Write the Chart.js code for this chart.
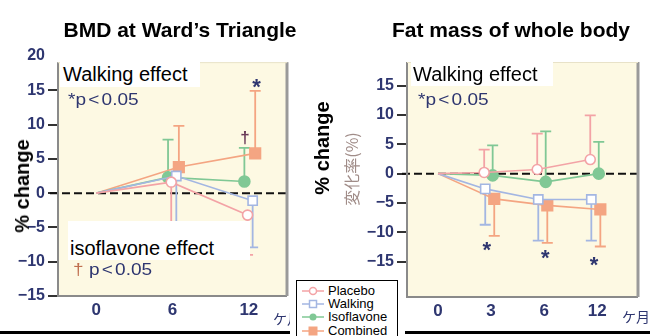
<!DOCTYPE html>
<html><head><meta charset="utf-8">
<script src="https://cdn.jsdelivr.net/npm/chart.js@4"></script>
<style>
html,body{margin:0;padding:0;background:#fff}
body{width:650px;height:336px;overflow:hidden;position:relative;font-family:"Liberation Sans",Arial,sans-serif}
canvas{position:absolute;top:0}
.t{position:absolute;white-space:nowrap;line-height:1}
.c{transform:translate(-50%,-50%)}
.box{position:absolute;background:#fff}
.navy{color:#2e3670}
.pv{font-size:17px;transform:scaleX(1.12);transform-origin:left center}
.lt{margin:0 2px}
.leg{position:absolute;left:296px;top:280px;width:100px;height:60px;border:1px solid #000;background:#fff}
.row{position:absolute;left:5px;height:12px;font-size:13px;line-height:12px}
.row svg{position:absolute;left:0;top:0}
.row span{position:absolute;left:26px;top:0}
</style></head><body>
<canvas id="c1" width="325" height="336" style="left:0;width:325px;height:336px"></canvas>
<canvas id="c2" width="325" height="336" style="left:325px;width:325px;height:336px"></canvas>

<div class="t c" style="left:180px;top:29px;font-size:21px;font-weight:bold">BMD at Ward’s Triangle</div>
<div class="t c" style="left:511px;top:29px;font-size:21px;font-weight:bold">Fat mass of whole body</div>

<div class="t c" style="left:22px;top:186px;font-size:20px;font-weight:bold;transform:translate(-50%,-50%) rotate(-90deg)">% change</div>
<div class="t c" style="left:322px;top:148px;font-size:20px;font-weight:bold;transform:translate(-50%,-50%) rotate(-90deg)">% change</div>
<div class="t c" style="left:351px;top:169px;font-size:16px;color:#a08c88;font-family:'Noto Sans CJK JP',sans-serif;transform:translate(-50%,-50%) rotate(-90deg)">変化率(%)</div>

<div class="box" style="left:60px;top:62px;width:140px;height:25px"></div>
<div class="t" style="left:63px;top:64px;font-size:20px">Walking effect</div>
<div class="t navy pv" style="left:68px;top:91px">*p<span class="lt">&lt;</span>0.05</div>

<div class="box" style="left:68px;top:221px;width:182px;height:39px"></div>
<div class="t" style="left:70px;top:238px;font-size:20px">isoflavone effect</div>
<div class="t navy pv" style="left:73px;top:261px"><span style="color:#c07050">†</span> p<span class="lt">&lt;</span>0.05</div>

<div class="box" style="left:411px;top:62px;width:142px;height:24px"></div>
<div class="t" style="left:413px;top:64px;font-size:20px">Walking effect</div>
<div class="t navy pv" style="left:418px;top:91px">*p<span class="lt">&lt;</span>0.05</div>

<div style="position:absolute;left:273px;top:311px;width:17px;height:16px;overflow:hidden"><div class="t navy" style="left:0;top:0;font-size:14px;font-family:'Noto Sans CJK JP',sans-serif">ケ月</div></div>
<div class="t navy" style="left:622px;top:309px;font-size:14px;font-family:'Noto Sans CJK JP',sans-serif">ケ月</div>

<div style="position:absolute;left:0;top:331px;width:290px;height:3px;background:#000"></div>
<div style="position:absolute;left:405px;top:331px;width:245px;height:3px;background:#000"></div>

<div class="leg">
  <div class="row" style="top:4px"><svg width="22" height="12"><line x1="0" y1="6" x2="22" y2="6" stroke="#f3a3a6" stroke-width="1.5"/><circle cx="11" cy="6" r="3.5" fill="#fff" stroke="#f3a3a6" stroke-width="1.5"/></svg><span>Placebo</span></div>
  <div class="row" style="top:17px"><svg width="22" height="12"><line x1="0" y1="6" x2="22" y2="6" stroke="#a3b6e2" stroke-width="1.5"/><rect x="7.5" y="2.5" width="7" height="7" fill="#fff" stroke="#a3b6e2" stroke-width="1.5"/></svg><span>Walking</span></div>
  <div class="row" style="top:30px"><svg width="22" height="12"><line x1="0" y1="6" x2="22" y2="6" stroke="#80c895" stroke-width="1.5"/><circle cx="11" cy="6" r="3.5" fill="#80c895"/></svg><span>Isoflavone</span></div>
  <div class="row" style="top:44px"><svg width="22" height="12"><line x1="0" y1="6" x2="22" y2="6" stroke="#f4a582" stroke-width="1.5"/><rect x="6.5" y="1.5" width="9" height="9" fill="#f4a582"/></svg><span>Combined</span></div>
</div>

<script>
// ---------- data ----------
const bmdMonths = [0, 6, 12];
const bmdPlacebo = [0, 1.6, -3.2];
const bmdPlaceboTip = [null, -8.5, -9.0];
const bmdWalking = [0, 2.5, -1.1];
const bmdWalkingTip = [null, -9.5, -7.9];
const bmdIso = [0, 2.3, 1.7];
const bmdIsoTip = [null, 7.8, 6.6];
const bmdComb = [0, 3.8, 5.8];
const bmdCombTip = [null, 9.8, 14.9];
const bmdTicksY = [-15, -10, -5, 0, 5, 10, 15, 20];
const bmdTicksX = [0, 6, 12];
const bmdStars = [{x: 12.6, y: 16.2, t: '*'}];
const bmdDaggers = [{x: 11.7, y: 8.3, t: '†'}];

const fatLabels = ['0', '3', '6', '12'];
const fatPlacebo = [0, 0.2, 0.7, 2.4];
const fatPlaceboTip = [null, 4.1, 6.8, 9.9];
const fatWalking = [0, -2.6, -4.4, -4.4];
const fatWalkingTip = [null, -8.7, -11.4, -11.4];
const fatIso = [0, -0.3, -1.4, 0.0];
const fatIsoTip = [null, 4.8, 7.2, 5.4];
const fatComb = [0, -4.3, -5.4, -6.1];
const fatCombTip = [null, -10.6, -11.8, -12.4];
const fatTicksY = [-15, -10, -5, 0, 5, 10, 15];
const fatStars = [{x: 0.92, y: -12.2, t: '*'}, {x: 2.02, y: -13.5, t: '*'}, {x: 2.94, y: -14.7, t: '*'}];

// ---------- styles ----------
const STY = {
  placebo: {c: '#f3a3a6', style: 'circle', r: 5, fill: '#ffffff'},
  walking: {c: '#a3b6e2', style: 'rect', r: 6.5, fill: '#ffffff'},
  iso: {c: '#80c895', style: 'circle', r: 5.5, fill: '#80c895'},
  comb: {c: '#f4a582', style: 'rect', r: 7.5, fill: '#f4a582'}
};
const NAVY = '#2e3670';
const FONT = '"Liberation Sans", Arial, sans-serif';

function ds(key, xs, ys, tips, jit) {
  const s = STY[key];
  return {
    data: ys.map((v, i) => ({x: xs[i] + (i > 0 ? jit : 0), y: v})),
    tips: tips,
    borderColor: s.c, backgroundColor: s.fill,
    borderWidth: 1.6,
    pointStyle: s.style,
    pointRadius: c => c.dataIndex === 0 ? 0 : s.r,
    pointHoverRadius: c => c.dataIndex === 0 ? 0 : s.r,
    pointBackgroundColor: s.fill, pointBorderColor: s.c, pointBorderWidth: 1.6,
    tension: 0, fill: false
  };
}

const framePlugin = {
  id: 'frame',
  beforeDraw(chart, args, o) {
    const {ctx, chartArea: a, scales: {y}} = chart;
    const top = y.getPixelForValue(o.topVal);
    ctx.save();
    ctx.fillStyle = '#fdf9e3';
    ctx.fillRect(a.left, top, a.right - a.left, a.bottom - top);
    ctx.restore();
  },
  beforeDatasetsDraw(chart, args, o) {
    const {ctx, chartArea: a, scales: {x, y}} = chart;
    const y0 = y.getPixelForValue(0);
    ctx.save();
    ctx.strokeStyle = '#111';
    ctx.lineWidth = 2;
    ctx.setLineDash([8, 4]);
    ctx.beginPath();
    ctx.moveTo(a.left - o.dashExt, y0);
    ctx.lineTo(a.right + 1, y0);
    ctx.stroke();
    ctx.setLineDash([]);
    chart.data.datasets.forEach(d => {
      if (!d.tips) return;
      ctx.strokeStyle = d.borderColor;
      ctx.lineWidth = 1.8;
      d.tips.forEach((t, i) => {
        if (t === null) return;
        const px = x.getPixelForValue(d.data[i].x);
        const p0 = y.getPixelForValue(d.data[i].y);
        const p1 = y.getPixelForValue(t);
        ctx.beginPath();
        ctx.moveTo(px, p0); ctx.lineTo(px, p1);
        ctx.moveTo(px - 5.5, p1); ctx.lineTo(px + 5.5, p1);
        ctx.stroke();
      });
    });
    ctx.restore();
  },
  afterDraw(chart, args, o) {
    const {ctx, chartArea: a, scales: {x, y}} = chart;
    const top = y.getPixelForValue(o.topVal);
    ctx.save();
    ctx.strokeStyle = '#8a8a8a';
    ctx.lineWidth = 2;
    ctx.beginPath();
    ctx.moveTo(a.left, top); ctx.lineTo(a.left, a.bottom);
    ctx.lineTo(a.right, a.bottom);
    ctx.stroke();
    ctx.strokeStyle = '#9a9a9a';
    ctx.lineWidth = 3;
    ctx.beginPath();
    ctx.moveTo(a.right, top); ctx.lineTo(a.right, a.bottom);
    ctx.stroke();
    ctx.strokeStyle = '#e8e2c8';
    ctx.lineWidth = 1;
    ctx.beginPath();
    ctx.moveTo(a.left, top + 0.5); ctx.lineTo(a.right, top + 0.5);
    ctx.stroke();
    (o.marks || []).forEach(m => {
      const px = x.getPixelForValue(m.x), py = y.getPixelForValue(m.y);
      ctx.textAlign = 'center';
      ctx.textBaseline = 'alphabetic';
      if (m.t === '*') {
        ctx.fillStyle = NAVY;
        ctx.font = 'bold 22px ' + FONT;
        ctx.fillText(m.t, px, py + 12);
      } else {
        ctx.fillStyle = '#6a3a58';
        ctx.font = 'bold 17px ' + FONT;
        ctx.fillText(m.t, px, py + 7);
      }
    });
    ctx.restore();
  }
};

function makeChart(id, cfg) {
  return new Chart(document.getElementById(id), {
    type: 'line',
    data: {datasets: cfg.datasets},
    plugins: [framePlugin],
    options: {
      responsive: false, animation: false,
      devicePixelRatio: 1,
      layout: {padding: {top: cfg.padTop, right: cfg.padRight, left: 0, bottom: 0}},
      plugins: {legend: {display: false}, tooltip: {enabled: false},
        frame: {topVal: cfg.topVal, dashExt: cfg.dashExt, marks: cfg.marks}},
      scales: {
        x: {
          type: 'linear', min: cfg.xMin, max: cfg.xMax,
          afterFit: s => { s.height = cfg.xH; },
          afterBuildTicks: s => { s.ticks = cfg.xTicks.map(v => ({value: v})); },
          grid: {display: false, drawTicks: false},
          border: {display: false},
          ticks: {padding: 4, color: NAVY, font: {family: FONT, size: 17, weight: 'bold'},
            maxRotation: 0, autoSkip: false, callback: cfg.xLabel}
        },
        y: {
          type: 'linear', min: cfg.yMin, max: cfg.yMax,
          afterFit: s => { s.width = cfg.yW; },
          afterBuildTicks: s => { s.ticks = cfg.yTicks.map(v => ({value: v})); },
          grid: {display: true, drawOnChartArea: false, drawTicks: true, tickLength: 10, lineWidth: 2,
            tickColor: c => (c.tick && c.tick.value === 20) ? 'rgba(0,0,0,0)' : '#333'},
          border: {display: false},
          ticks: {padding: 3, color: NAVY, font: {family: FONT, size: 16, weight: 'bold'},
            autoSkip: false, callback: v => String(v).replace('-', '−')}
        }
      }
    }
  });
}

makeChart('c1', {
  datasets: [
    ds('placebo', bmdMonths, bmdPlacebo, bmdPlaceboTip, -0.1),
    ds('walking', bmdMonths, bmdWalking, bmdWalkingTip, 0.3),
    ds('iso', bmdMonths, bmdIso, bmdIsoTip, -0.35),
    ds('comb', bmdMonths, bmdComb, bmdCombTip, 0.5)
  ],
  padTop: 56, padRight: 38, xH: 40, yW: 58,
  xMin: -3, xMax: 15, yMin: -15, yMax: 20, topVal: 19.1, dashExt: 8,
  xTicks: bmdTicksX, yTicks: bmdTicksY, xLabel: v => String(v),
  marks: bmdStars.concat(bmdDaggers)
});

const fatIdx = fatLabels.map((_, i) => i);
makeChart('c2', {
  datasets: [
    ds('placebo', fatIdx, fatPlacebo, fatPlaceboTip, -0.13),
    ds('walking', fatIdx, fatWalking, fatWalkingTip, -0.11),
    ds('iso', fatIdx, fatIso, fatIsoTip, 0.03),
    ds('comb', fatIdx, fatComb, fatCombTip, 0.06)
  ],
  padTop: 62, padRight: 12, xH: 39, yW: 82,
  xMin: -0.585, xMax: 3.77, yMin: -21, yMax: 19, topVal: 19, dashExt: 5,
  xTicks: fatIdx, yTicks: fatTicksY, xLabel: v => fatLabels[v],
  marks: fatStars
});
</script>
</body></html>
